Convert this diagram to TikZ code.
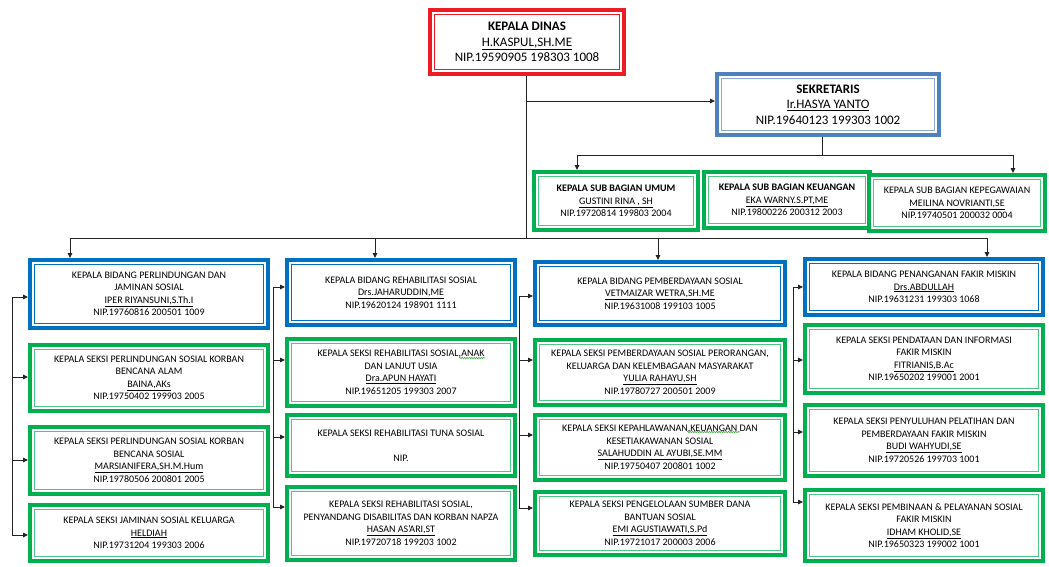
\documentclass[tikz,border=0pt]{standalone}
\usepackage{fontspec}
\setmainfont{Carlito}
\usetikzlibrary{arrows.meta,calc,decorations.pathmorphing}
\definecolor{dinasred}{RGB}{237,28,36}
\definecolor{sekblue}{RGB}{79,129,189}
\definecolor{sekblueinner}{RGB}{141,172,212}
\definecolor{bidblue}{RGB}{0,112,192}
\definecolor{seksigreen}{RGB}{0,176,80}
\definecolor{linegray}{RGB}{35,35,35}
\definecolor{spellgreen}{RGB}{60,170,60}
\tikzset{
  % thick outer frame with a thin inner frame, as in an office chart
  frame/.style 2 args={draw=#1, line width=4pt, fill=white, align=center, inner sep=0pt,
    path picture={\draw[#2, line width=0.9pt]
      ([shift={(4.6pt,-4.6pt)}]path picture bounding box.north west) rectangle
      ([shift={(-4.6pt,4.6pt)}]path picture bounding box.south east);}},
  bigtext/.style={font=\fontsize{13}{15.5}\selectfont},
  smalltext/.style={font=\fontsize{10}{12.5}\selectfont},
  dinasbox/.style={frame={dinasred}{dinasred}, bigtext},
  sekbox/.style={frame={sekblue}{sekblueinner}, bigtext},
  bidangbox/.style={frame={bidblue}{bidblue}, smalltext},
  seksibox/.style={frame={seksigreen}{seksigreen!70}, smalltext},
  link/.style={draw=linegray, line width=0.9pt},
  arrowlink/.style={link, -{Triangle[length=5pt,width=4.5pt]}},
  wavy/.style={draw=spellgreen, line width=0.6pt,
    decorate, decoration={snake, amplitude=0.7pt, segment length=2.4pt}},
}
\begin{document}
\begin{tikzpicture}[x=1pt,y=-1pt]
\useasboundingbox (0,0) rectangle (1049,566);
\fill[white] (0,0) rectangle (1049,566);

% ---- head and secretary ----
\node[dinasbox, minimum width=194pt, minimum height=64pt] (dinas) at (527,42)
  {\textbf{KEPALA DINAS}\\\underline{H.KASPUL,SH.ME}\\NIP.19590905 198303 1008};
\node[sekbox, minimum width=222pt, minimum height=61pt] (sek) at (828,104.5)
  {\textbf{SEKRETARIS}\\\underline{Ir.HASYA YANTO}\\NIP.19640123 199303 1002};

% ---- sub divisions of the secretariat ----
\node[seksibox, minimum width=164pt, minimum height=58pt] (sub1) at (616,201)
  {\textbf{KEPALA SUB BAGIAN UMUM}\\\underline{GUSTINI RINA , SH}\\NIP.19720814 199803 2004};
\node[seksibox, minimum width=166pt, minimum height=56pt] (sub2) at (787,200)
  {\textbf{KEPALA SUB BAGIAN KEUANGAN}\\\underline{EKA WARNY.S.PT,ME}\\NIP.19800226 200312 2003};
\node[seksibox, minimum width=176pt, minimum height=56pt] (sub3) at (957,203)
  {KEPALA SUB BAGIAN KEPEGAWAIAN\\\underline{MEILINA NOVRIANTI,SE}\\NIP.19740501 200032 0004};

% ---- column 1 ----
\node[bidangbox, minimum width=238pt, minimum height=68pt] (b1) at (149,294)
  {KEPALA BIDANG PERLINDUNGAN DAN\\JAMINAN SOSIAL\\\underline{IPER RIYANSUNI,S.Th.I}\\NIP.19760816 200501 1009};
\node[seksibox, minimum width=238pt, minimum height=66pt] (s11) at (149,378)
  {KEPALA SEKSI PERLINDUNGAN SOSIAL KORBAN\\BENCANA ALAM\\\underline{BAINA,AKs}\\NIP.19750402 199903 2005};
\node[seksibox, minimum width=238pt, minimum height=67pt] (s12) at (149,460.5)
  {KEPALA SEKSI PERLINDUNGAN SOSIAL KORBAN\\BENCANA SOSIAL\\\underline{MARSIANIFERA,SH.M.Hum}\\NIP.19780506 200801 2005};
\node[seksibox, minimum width=238pt, minimum height=56pt] (s13) at (149,533)
  {KEPALA SEKSI JAMINAN SOSIAL KELUARGA\\\underline{HELDIAH}\\NIP.19731204 199303 2006};

% ---- column 2 ----
\node[bidangbox, minimum width=228pt, minimum height=65pt] (b2) at (401,292.5)
  {KEPALA BIDANG REHABILITASI SOSIAL\\\underline{Drs.JAHARUDDIN,ME}\\NIP.19620124 198901 1111};
\node[seksibox, minimum width=228pt, minimum height=67pt] (s21) at (401,372.5)
  {KEPALA SEKSI REHABILITASI SOSIAL,ANAK\\DAN LANJUT USIA\\\underline{Dra.APUN HAYATI}\\NIP.19651205 199303 2007};
\node[seksibox, minimum width=228pt, minimum height=61pt] (s22) at (401,445.5)
  {KEPALA SEKSI REHABILITASI TUNA SOSIAL\\\mbox{}\\NIP.};
\node[seksibox, minimum width=228pt, minimum height=73pt] (s23) at (401,523.5)
  {KEPALA SEKSI REHABILITASI SOSIAL,\\PENYANDANG DISABILITAS DAN KORBAN NAPZA\\\underline{HASAN AS’ARI,ST}\\NIP.19720718 199203 1002};

% ---- column 3 ----
\node[bidangbox, minimum width=250pt, minimum height=63pt] (b3) at (660,293.5)
  {KEPALA BIDANG PEMBERDAYAAN SOSIAL\\\underline{VETMAIZAR WETRA,SH.ME}\\NIP.19631008 199103 1005};
\node[seksibox, minimum width=250pt, minimum height=65pt] (s31) at (660,372.5)
  {KEPALA SEKSI PEMBERDAYAAN SOSIAL PERORANGAN,\\KELUARGA DAN KELEMBAGAAN MASYARAKAT\\\underline{YULIA RAHAYU,SH}\\NIP.19780727 200501 2009};
\node[seksibox, minimum width=250pt, minimum height=65pt] (s32) at (660,447.5)
  {KEPALA SEKSI KEPAHLAWANAN,KEUANGAN DAN\\KESETIAKAWANAN SOSIAL\\\underline{SALAHUDDIN AL AYUBI,SE.MM}\\NIP.19750407 200801 1002};
\node[seksibox, minimum width=250pt, minimum height=63pt] (s33) at (660,523.5)
  {KEPALA SEKSI PENGELOLAAN SUMBER DANA\\BANTUAN SOSIAL\\\underline{EMI AGUSTIAWATI,S.Pd}\\NIP.19721017 200003 2006};

% ---- column 4 ----
\node[bidangbox, minimum width=238pt, minimum height=56pt] (b4) at (924,287)
  {KEPALA BIDANG PENANGANAN FAKIR MISKIN\\\underline{Drs.ABDULLAH}\\NIP.19631231 199303 1068};
\node[seksibox, minimum width=238pt, minimum height=68pt] (s41) at (924,359)
  {KEPALA SEKSI PENDATAAN DAN INFORMASI\\FAKIR MISKIN\\\underline{FITRIANIS,B.Ac}\\NIP.19650202 199001 2001};
\node[seksibox, minimum width=238pt, minimum height=71pt] (s42) at (924,440.5)
  {KEPALA SEKSI PENYULUHAN PELATIHAN DAN\\PEMBERDAYAAN FAKIR MISKIN\\\underline{BUDI WAHYUDI,SE}\\NIP.19720526 199703 1001};
\node[seksibox, minimum width=238pt, minimum height=71pt] (s43) at (924,525.5)
  {KEPALA SEKSI PEMBINAAN \& PELAYANAN SOSIAL\\FAKIR MISKIN\\\underline{IDHAM KHOLID,SE}\\NIP.19650323 199002 1001};

% ---- wavy proofing marks under two words ----
\draw[wavy] ($(s21.center)+(58,-14.5)$) -- ($(s21.center)+(84,-14.5)$);
\draw[wavy] ($(s32.center)+(27,-15.5)$) -- ($(s32.center)+(80,-15.5)$);

% ---- main trunk and the secretary ----
\coordinate (trunk) at (526,238);
\draw[link] (dinas.south -| trunk) -- (trunk);
\draw[arrowlink] (trunk |- 0,101) -- (sek.west |- 0,101);

% ---- secretariat branch ----
\coordinate (sb) at (822,155);
\coordinate (sbL) at (577,155);
\coordinate (sbR) at (1013,155);
\draw[link] (sek.south -| sb) -- (sb);
\draw[link] (sbL) -- (sbR);
\draw[arrowlink] (sbL) -- (sbL |- sub1.north);
\draw[arrowlink] (sbR) -- (sbR |- sub3.north);

% ---- division row ----
\coordinate (t1) at (70,238);
\coordinate (t2) at (375,238);
\coordinate (t3) at (658,238);
\coordinate (t4) at (987,238);
\draw[link] (t1) -- (t4);
\draw[arrowlink] (t1) -- (t1 |- b1.north);
\draw[arrowlink] (t2) -- (t2 |- b2.north);
\draw[arrowlink] (t3) -- (t3 |- b3.north);
\draw[arrowlink] (t4) -- (t4 |- b4.north);

% ---- side buses feeding each column ----
\coordinate (bus1) at (12,0);
\coordinate (bus2) at (273,0);
\coordinate (bus3) at (519,0);
\coordinate (bus4) at (793,0);
\draw[link] (bus1 |- 0,297) -- (bus1 |- 0,535);
\foreach \n/\y in {b1/297, s11/377, s12/460, s13/535}
  \draw[arrowlink] (bus1 |- 0,\y) -- (\n.west |- 0,\y);
\draw[link] (bus2 |- 0,287) -- (bus2 |- 0,507);
\foreach \n/\y in {b2/287, s21/360, s22/437, s23/507}
  \draw[arrowlink] (bus2 |- 0,\y) -- (\n.west |- 0,\y);
\draw[link] (bus3 |- 0,296) -- (bus3 |- 0,508);
\foreach \n/\y in {b3/296, s31/360, s32/435, s33/508}
  \draw[arrowlink] (bus3 |- 0,\y) -- (\n.west |- 0,\y);
\draw[link] (bus4 |- 0,287) -- (bus4 |- 0,502);
\foreach \n/\y in {b4/287, s41/360, s42/432, s43/502}
  \draw[arrowlink] (bus4 |- 0,\y) -- (\n.west |- 0,\y);
\end{tikzpicture}
\end{document}
